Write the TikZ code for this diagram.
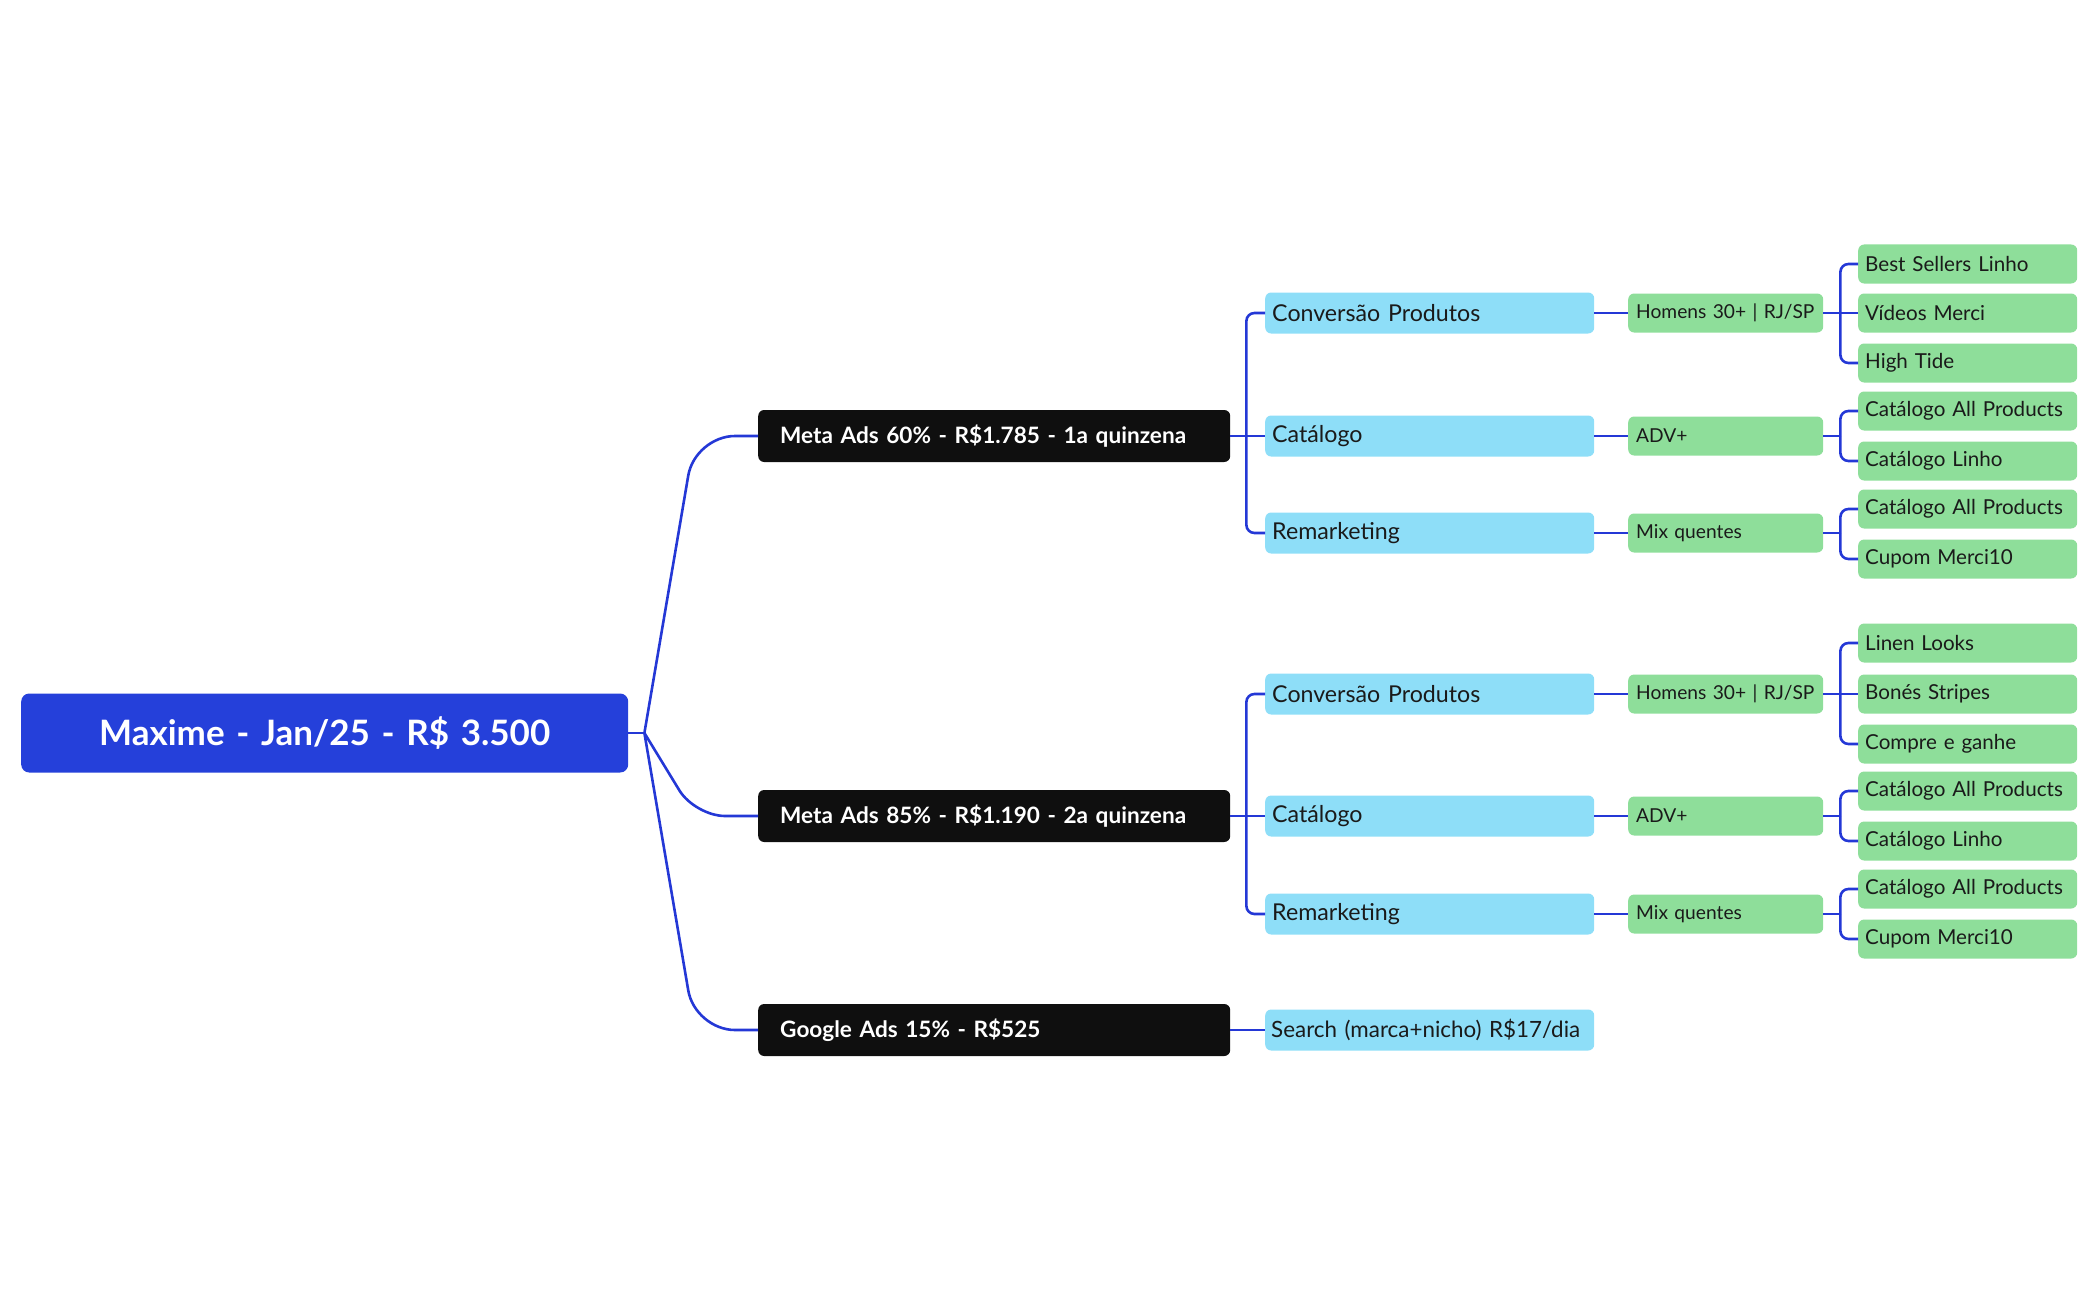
\documentclass[tikz,border=0pt]{standalone}
\usepackage{fontspec}
\setmainfont{Lato}
\usetikzlibrary{calc}
\definecolor{rootblue}{HTML}{2540DA}
\definecolor{linkblue}{HTML}{2438D6}
\definecolor{mainblack}{HTML}{0F0F0F}
\definecolor{lightblue}{HTML}{8EDEF8}
\definecolor{lightgreen}{HTML}{8EDE9A}
\definecolor{txt}{HTML}{1A1A1A}
\begin{document}
\begin{tikzpicture}[x=1pt,y=-1pt,
  base/.style={anchor=west, rounded corners=6pt, inner ysep=0pt, align=left},
  rootbox/.style={base, fill=rootblue, text=white, minimum height=79pt, text width=607pt, inner xsep=0pt, align=center, font=\fontsize{35}{42}\selectfont\bfseries, rounded corners=8pt},
  mainbox/.style={base, fill=mainblack, text=white, minimum height=52pt, inner xsep=22pt, text width=428pt, font=\fontsize{22.6}{27}\selectfont\bfseries},
  bluebox/.style={base, fill=lightblue, text=txt, minimum height=41pt, inner xsep=7pt, text width=315pt, font=\fontsize{23.2}{27}\selectfont},
  searchbox/.style={bluebox, inner xsep=6pt, text width=317pt, font=\fontsize{22.4}{27}\selectfont},
  midbox/.style={base, fill=lightgreen, text=txt, minimum height=39pt, inner xsep=8pt, text width=179pt, font=\fontsize{19.2}{23}\selectfont},
  leafbox/.style={base, fill=lightgreen, text=txt, minimum height=39pt, inner xsep=7pt, text width=205pt, font=\fontsize{20.6}{24}\selectfont},
  link/.style={draw=linkblue, line width=2.6pt},
  fork/.style={link, rounded corners=8pt}
]
\useasboundingbox (0,0) rectangle (2099,1300);

% root
\node[rootbox] (root) at (21,733) {Maxime - Jan/25 - R\$ 3.500};

% main branches
\node[mainbox] (m1) at (758,436) {Meta Ads 60\% - R\$1.785 - 1a quinzena};
\node[mainbox] (m2) at (758,816) {Meta Ads 85\% - R\$1.190 - 2a quinzena};
\node[mainbox] (g)  at (758,1030) {Google Ads 15\% - R\$525};

% level 2
\node[bluebox] (c1) at (1265,313) {Conversão Produtos};
\node[bluebox] (k1) at (1265,436) {Catálogo};
\node[bluebox] (r1) at (1265,533) {Remarketing};
\node[bluebox] (c2) at (1265,694) {Conversão Produtos};
\node[bluebox] (k2) at (1265,816) {Catálogo};
\node[bluebox] (r2) at (1265,914) {Remarketing};
\node[searchbox] (s) at (1265,1030) {Search (marca+nicho) R\$17/dia};

% level 3
\node[midbox] (h1) at (1628,313) {Homens 30+ | RJ/SP};
\node[midbox] (a1) at (1628,436) {ADV+};
\node[midbox] (x1) at (1628,533) {Mix quentes};
\node[midbox] (h2) at (1628,694) {Homens 30+ | RJ/SP};
\node[midbox] (a2) at (1628,816) {ADV+};
\node[midbox] (x2) at (1628,914) {Mix quentes};

% leaves
\node[leafbox] (l11) at (1858,264) {Best Sellers Linho};
\node[leafbox] (l12) at (1858,313) {Vídeos Merci};
\node[leafbox] (l13) at (1858,363) {High Tide};
\node[leafbox] (l21) at (1858,411) {Catálogo All Products};
\node[leafbox] (l22) at (1858,461) {Catálogo Linho};
\node[leafbox] (l31) at (1858,509) {Catálogo All Products};
\node[leafbox] (l32) at (1858,559) {Cupom Merci10};
\node[leafbox] (l41) at (1858,643) {Linen Looks};
\node[leafbox] (l42) at (1858,694) {Bonés Stripes};
\node[leafbox] (l43) at (1858,744) {Compre e ganhe};
\node[leafbox] (l51) at (1858,791) {Catálogo All Products};
\node[leafbox] (l52) at (1858,841) {Catálogo Linho};
\node[leafbox] (l61) at (1858,889) {Catálogo All Products};
\node[leafbox] (l62) at (1858,939) {Cupom Merci10};

% root connectors
\coordinate (rj) at ($(root.east)+(16,0)$);
\draw[link] (root.east) -- (rj);
\draw[link, rounded corners=40pt] (rj) -- ([xshift=-63pt]m1.west) -- (m1.west);
\draw[link, rounded corners=30pt] (rj) -- ([xshift=-63pt]m2.west) -- (m2.west);
\draw[link, rounded corners=40pt] (rj) -- ([xshift=-63pt]g.west) -- (g.west);

% main -> level 2
\coordinate (m1j) at ($(m1.east)+(16,0)$);
\draw[link] (m1.east) -- (m1j);
\draw[fork] (m1j) |- (c1.west);
\draw[link] (m1j) -- (k1.west);
\draw[fork] (m1j) |- (r1.west);

\coordinate (m2j) at ($(m2.east)+(16,0)$);
\draw[link] (m2.east) -- (m2j);
\draw[fork] (m2j) |- (c2.west);
\draw[link] (m2j) -- (k2.west);
\draw[fork] (m2j) |- (r2.west);

\draw[link] (g.east) -- (s.west);

% level 2 -> level 3
\draw[link] (c1.east) -- (h1.west);
\draw[link] (k1.east) -- (a1.west);
\draw[link] (r1.east) -- (x1.west);
\draw[link] (c2.east) -- (h2.west);
\draw[link] (k2.east) -- (a2.west);
\draw[link] (r2.east) -- (x2.west);

% level 3 -> leaves
\coordinate (h1j) at ($(h1.east)+(17,0)$);
\draw[link] (h1.east) -- (h1j);
\draw[fork] (h1j) |- (l11.west);
\draw[link] (h1j) -- (l12.west);
\draw[fork] (h1j) |- (l13.west);

\coordinate (a1j) at ($(a1.east)+(17,0)$);
\draw[link] (a1.east) -- (a1j);
\draw[fork] (a1j) |- (l21.west);
\draw[fork] (a1j) |- (l22.west);

\coordinate (x1j) at ($(x1.east)+(17,0)$);
\draw[link] (x1.east) -- (x1j);
\draw[fork] (x1j) |- (l31.west);
\draw[fork] (x1j) |- (l32.west);

\coordinate (h2j) at ($(h2.east)+(17,0)$);
\draw[link] (h2.east) -- (h2j);
\draw[fork] (h2j) |- (l41.west);
\draw[link] (h2j) -- (l42.west);
\draw[fork] (h2j) |- (l43.west);

\coordinate (a2j) at ($(a2.east)+(17,0)$);
\draw[link] (a2.east) -- (a2j);
\draw[fork] (a2j) |- (l51.west);
\draw[fork] (a2j) |- (l52.west);

\coordinate (x2j) at ($(x2.east)+(17,0)$);
\draw[link] (x2.east) -- (x2j);
\draw[fork] (x2j) |- (l61.west);
\draw[fork] (x2j) |- (l62.west);
\end{tikzpicture}
\end{document}
